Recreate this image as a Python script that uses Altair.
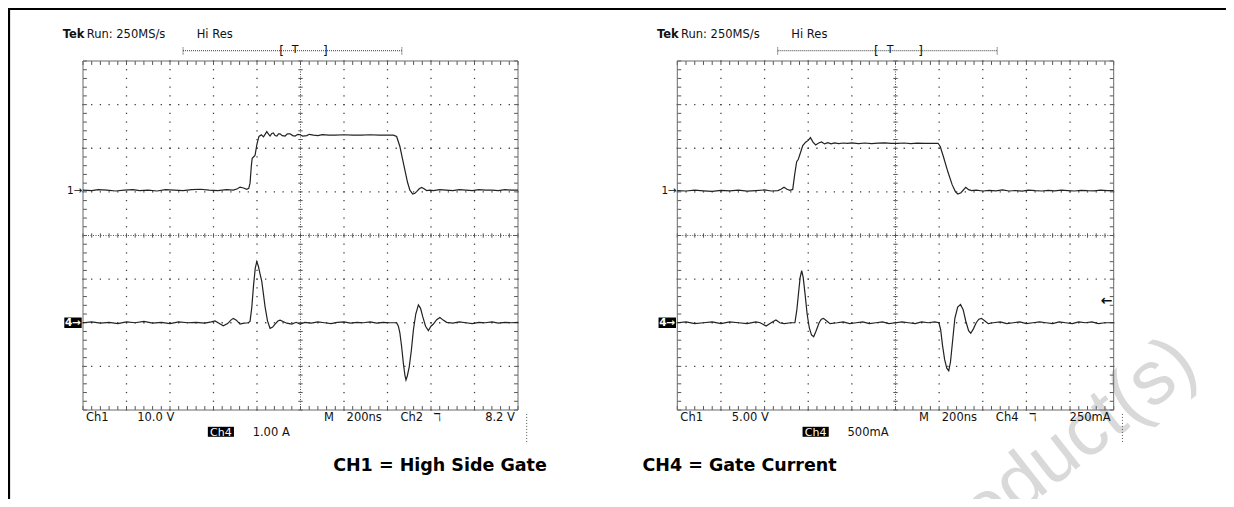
import altair as alt
import numpy as np
import pandas as pd

# ---------------- scope settings ----------------
NS_PER_DIV = 200.0
CH1_OFFSET_DIV = 1.0
CH4_OFFSET_DIV = -2.0
L_CH1_PER_DIV = 10.0   # V/div
L_CH4_PER_DIV = 1.0    # A/div
R_CH1_PER_DIV = 5.0    # V/div
R_CH4_PER_DIV = 0.5    # A/div

# ---------------- left capture (ns, V / A) ----------------
L_CH1_T = [-1000, -960, -930, -890, -850, -810, -770, -740, -700, -660,
           -620, -580, -540, -500, -460, -420, -380, -340, -309, -290,
           -278, -262, -247, -238, -232, -226, -222, -214, -209, -200,
           -191, -180, -170, -155, -146, -140, -132, -125, -117, -109,
           -101, -94, -84, -71, -60, -48, -36, -25, -12, -2,
           10, 29, 40, 60, 80, 100, 130, 160, 200, 240,
           280, 320, 360, 400, 427, 442, 457, 468, 480, 492,
           503, 516, 526, 534, 546, 557, 568, 580, 595, 611,
           640, 670, 700, 730, 760, 790, 820, 850, 880, 910,
           940, 970, 1000]
L_CH1_V = [0.4, 0.3, 0.5, 0.4, 0.2, 0.4, 0.5, 0.3, 0.4, 0.2,
           0.5, 0.4, 0.3, 0.5, 0.6, 0.4, 0.3, 0.5, 0.4, 0.7,
           1.1, 0.9, 0.6, 0.8, 2.0, 6.0, 7.7, 8.1, 8.4, 11.0,
           12.7, 13.1, 12.6, 13.8, 13.2, 12.8, 13.4, 13.5, 12.9, 12.8,
           13.3, 13.3, 12.9, 12.8, 13.3, 13.3, 12.9, 12.8, 13.2, 13.1,
           12.8, 12.9, 13.2, 13.0, 12.9, 13.1, 13.0, 13.0, 13.1, 13.0,
           13.0, 13.1, 13.0, 13.0, 13.0, 12.7, 10.4, 7.8, 5.0, 2.2,
           0.4, -0.5, -0.3, 0.05, 0.7, 1.0, 0.7, 0.3, 0.4, 0.3,
           0.5, 0.4, 0.3, 0.5, 0.4, 0.3, 0.5, 0.4, 0.4, 0.3,
           0.5, 0.4, 0.4]

L_CH4_T = [-1000, -960, -920, -880, -840, -800, -760, -720, -680, -640,
           -600, -560, -520, -480, -440, -410, -393, -375, -355, -335,
           -320, -309, -295, -278, -260, -240, -232, -224, -216, -208,
           -201, -194, -186, -178, -163, -152, -140, -128, -117, -104,
           -94, -80, -63, -40, -20, -2, 20, 50, 80, 110,
           140, 170, 200, 230, 260, 290, 320, 350, 380, 410,
           442, 450, 457, 465, 473, 480, 485, 491, 500, 510,
           519, 530, 542, 552, 562, 575, 588, 600, 611, 626,
           641, 656, 672, 700, 730, 760, 790, 820, 850, 880,
           910, 940, 970, 1000]
L_CH4_A = [0.00, 0.02, -0.01, 0.01, -0.02, 0.02, 0.00, 0.03, -0.01, 0.01,
           -0.02, 0.02, 0.00, 0.01, -0.01, 0.02, 0.04, -0.01, -0.07, -0.02,
           0.06, 0.10, 0.06, -0.03, -0.01, 0.00, 0.03, 0.35, 0.85, 1.25,
           1.40, 1.30, 1.12, 0.95, 0.37, 0.05, -0.13, -0.10, -0.03, 0.04,
           0.06, 0.03, -0.01, -0.03, 0.01, -0.03, 0.01, -0.01, 0.02, 0.00,
           -0.02, 0.01, 0.02, -0.01, 0.01, 0.00, 0.02, -0.01, 0.01, 0.00,
           0.00, -0.08, -0.24, -0.55, -0.93, -1.20, -1.31, -1.22, -1.01, -0.62,
           -0.17, 0.20, 0.41, 0.33, 0.14, -0.08, -0.18, -0.08, -0.03, 0.07,
           0.12, 0.06, 0.01, -0.01, 0.02, 0.00, -0.02, 0.01, 0.00, 0.02,
           -0.01, 0.01, 0.00, 0.01]

# ---------------- right capture (ns, V / A) ----------------
R_CH1_T = [-1000, -960, -920, -880, -840, -800, -760, -720, -680, -640,
           -600, -570, -539, -525, -511, -497, -484, -471, -462, -453,
           -446, -439, -425, -412, -400, -390, -378, -366, -352, -339,
           -325, -310, -295, -280, -260, -240, -220, -200, -170, -140,
           -110, -80, -50, -20, 10, 40, 70, 100, 130, 160,
           195, 205, 220, 240, 260, 275, 286, 300, 322, 335,
           349, 370, 400, 430, 460, 490, 520, 550, 580, 610,
           640, 670, 700, 730, 760, 790, 820, 850, 880, 910,
           940, 970, 1000]
R_CH1_V = [0.15, 0.10, 0.20, 0.12, 0.05, 0.18, 0.12, 0.20, 0.08, 0.15,
           0.22, 0.10, 0.14, 0.30, 0.53, 0.30, 0.18, 0.28, 2.0, 3.46,
           3.7, 4.23, 5.3, 5.69, 5.9, 6.22, 5.7, 5.38, 5.6, 5.72,
           5.5, 5.65, 5.5, 5.62, 5.52, 5.6, 5.55, 5.62, 5.54, 5.6,
           5.53, 5.58, 5.62, 5.55, 5.57, 5.6, 5.54, 5.58, 5.57, 5.56,
           5.57, 5.2, 4.0, 2.3, 0.8, 0.0, -0.24, -0.1, 0.53, 0.25,
           0.14, 0.20, 0.10, 0.18, 0.12, 0.22, 0.10, 0.16, 0.08, 0.20,
           0.14, 0.10, 0.18, 0.12, 0.20, 0.15, 0.10, 0.18, 0.14, 0.12,
           0.20, 0.14, 0.15]

R_CH4_T = [-1000, -960, -920, -880, -840, -800, -760, -720, -680, -640,
           -620, -593, -570, -548, -530, -510, -480, -461, -452, -444,
           -437, -430, -423, -414, -405, -395, -385, -375, -365, -350,
           -340, -330, -315, -300, -267, -240, -210, -180, -150, -120,
           -90, -60, -30, 0, 30, 60, 90, 120, 150, 180,
           199, 207, 215, 225, 235, 244, 252, 262, 272, 285,
           298, 310, 322, 335, 345, 357, 370, 382, 394, 410,
           425, 448, 480, 510, 540, 570, 600, 630, 660, 690,
           720, 750, 780, 810, 840, 870, 900, 930, 960, 1000]
R_CH4_A = [0.00, 0.01, -0.01, 0.00, 0.01, -0.01, 0.01, 0.00, -0.01, 0.01,
           0.00, -0.038, 0.00, 0.031, 0.00, -0.01, 0.00, 0.00, 0.15, 0.35,
           0.52, 0.596, 0.52, 0.32, 0.10, -0.06, -0.14, -0.16, -0.10, 0.00,
           0.04, 0.05, 0.02, -0.01, 0.00, 0.01, -0.01, 0.00, 0.01, -0.01,
           0.00, 0.01, -0.01, 0.00, 0.01, 0.00, -0.01, 0.01, 0.00, 0.01,
           0.00, -0.08, -0.25, -0.42, -0.52, -0.55, -0.45, -0.20, 0.05, 0.18,
           0.21, 0.15, 0.02, -0.09, -0.12, -0.07, 0.00, 0.04, 0.05, 0.02,
           -0.01, 0.00, 0.01, -0.01, 0.00, 0.01, -0.01, 0.00, 0.01, 0.00,
           -0.01, 0.01, 0.00, -0.01, 0.01, 0.00, 0.01, -0.01, 0.00, 0.00]

# ---------------- texts ----------------
TOP_BRAND = "Tek"
TOP_RUN = "Run: 250MS/s"
TOP_MODE = "Hi Res"
L_ROW1 = ["Ch1", "10.0 V", "M", "200ns", "Ch2", "\u2138", "8.2 V"]
R_ROW1 = ["Ch1", "5.00 V", "M", "200ns", "Ch4", "\u2138", "250mA"]
L_ROW2 = ["Ch4", "1.00 A"]
R_ROW2 = ["Ch4", "500mA"]
L_CAPTION = "CH1 = High Side Gate"
R_CAPTION = "CH4 = Gate Current"
WATERMARK = "Obsolete Product(s)"

# ---------------- layout helpers ----------------
PANEL_RANGE = {"L": [0, 435], "R": [594.3, 1030.7]}
FONT = "DejaVu Sans"
INK = "#111111"


def xsc(p):
    return alt.Scale(domain=[0, 10], range=PANEL_RANGE[p], nice=False, zero=False)


YSC = alt.Scale(domain=[-4, 4], nice=False, zero=False)


def exy(p):
    return dict(x=alt.X("x:Q", scale=xsc(p), axis=None),
                y=alt.Y("y:Q", scale=YSC, axis=None))


def rules(p, rows, **mk):
    df = pd.DataFrame(rows, columns=["x", "y", "x2", "y2"])
    return alt.Chart(df).mark_rule(**mk).encode(**exy(p), x2="x2:Q", y2="y2:Q")


def rects(p, rows, **mk):
    df = pd.DataFrame(rows, columns=["x", "y", "x2", "y2"])
    return alt.Chart(df).mark_rect(**mk).encode(**exy(p), x2="x2:Q", y2="y2:Q")


def texts(p, rows, **mk):
    df = pd.DataFrame(rows, columns=["x", "y", "t"])
    return alt.Chart(df).mark_text(**mk).encode(**exy(p), text="t:N")


def trace_df(t, v, per_div, offset, name):
    return pd.DataFrame({"x": np.array(t, float) / NS_PER_DIV + 5.0,
                         "y": np.array(v, float) / per_div + offset,
                         "ch": name})


minor_x = [round(i * 0.2, 3) for i in range(51)]
minor_y = [round(-4 + i * 0.2, 3) for i in range(41)]
TX, TY = 0.09, 0.09


def panel(p, ch1, ch4, row1, row2, caption, caption_x):
    lay = []
    # graticule dots
    dots = [(gx, yy) for gx in [1, 2, 3, 4, 6, 7, 8, 9] for yy in minor_y] + \
           [(xx, gy) for gy in [-3, -2, -1, 1, 2, 3] for xx in minor_x]
    ddf = pd.DataFrame(dots, columns=["x", "y"])
    lay.append(alt.Chart(ddf).mark_square(size=1.6, color="#3c3c3c", opacity=1).encode(**exy(p)))
    # center cross
    lay.append(rules(p, [(5, -4, 5, 4), (0, 0, 10, 0)], color="#555555", strokeWidth=1, strokeDash=[1, 1.5]))
    ticks = [(xx, -0.05, xx, 0.05) for xx in minor_x] + [(4.95, yy, 5.05, yy) for yy in minor_y]
    ticks += [(xx, 4, xx, 4 - TY) for xx in minor_x] + [(xx, -4, xx, -4 + TY) for xx in minor_x]
    ticks += [(0, yy, TX, yy) for yy in minor_y] + [(10, yy, 10 - TX, yy) for yy in minor_y]
    lay.append(rules(p, ticks, color="#555555", strokeWidth=1))
    # border
    lay.append(rules(p, [(0, -4, 0, 4), (10, -4, 10, 4), (0, 4, 10, 4), (0, -4, 10, -4)],
                     color="#6a6a6a", strokeWidth=1))
    # traces
    tdf = pd.concat([ch1, ch4])
    lay.append(alt.Chart(tdf).mark_line(color="#222222", strokeWidth=1.2).encode(
        **exy(p), detail="ch:N"))
    # top status line
    lay.append(texts(p, [(-0.467, 4.52, TOP_BRAND)], font=FONT, fontSize=11.5, fontWeight="bold",
                     align="left", baseline="alphabetic", color=INK))
    lay.append(texts(p, [(0.085, 4.52, TOP_RUN), (2.614, 4.52, TOP_MODE)], font=FONT, fontSize=11.5,
                     align="left", baseline="alphabetic", color=INK))
    # trigger position bar
    lay.append(rules(p, [(2.30, 4.236, 7.33, 4.236)], color="#333333", strokeWidth=1, strokeDash=[1, 1]))
    lay.append(rules(p, [(2.30, 4.15, 2.30, 4.32), (7.33, 4.15, 7.33, 4.32)], color="#333333",
                     strokeWidth=1, strokeDash=[1, 1]))
    lay.append(texts(p, [(4.51, 4.236, "["), (5.52, 4.236, "]")], font=FONT, fontSize=12,
                     align="left", baseline="middle", color=INK))
    lay.append(texts(p, [(4.80, 4.172, "T")], font=FONT, fontSize=11, align="left",
                     baseline="alphabetic", color=INK))
    # ground markers
    lay.append(texts(p, [(-0.01, 1.02, "1\u2192")], font=FONT, fontSize=10.5, align="right",
                     baseline="middle", color=INK))
    lay.append(rects(p, [(-0.43, -1.88, -0.03, -2.12)], color="black"))
    lay.append(texts(p, [(-0.23, -2.0, "4\u2192")], font=FONT, fontSize=10.5, fontWeight="bold",
                     align="center", baseline="middle", color="white"))
    # bottom readouts
    r1y = -4.245
    lay.append(texts(p, [(0.07, r1y, row1[0]), (5.54, r1y, row1[2]), (6.06, r1y, row1[3]),
                         (7.30, r1y, row1[4])],
                     font=FONT, fontSize=11.5, align="left", baseline="alphabetic", color=INK))
    lay.append(texts(p, [(2.10, r1y, row1[1]), (9.93, r1y, row1[6])],
                     font=FONT, fontSize=11.5, align="right", baseline="alphabetic", color=INK))
    lay.append(texts(p, [(8.06, r1y, row1[5])], font=FONT, fontSize=11.5, align="left",
                     baseline="alphabetic", color=INK))
    lay.append(rules(p, [(10.2, -4.09, 10.2, -4.78)], color="#555555", strokeWidth=1, strokeDash=[1, 2]))
    lay.append(rects(p, [(2.87, -4.385, 3.47, -4.614)], color="black"))
    lay.append(texts(p, [(3.17, -4.585, row2[0])], font=FONT, fontSize=11, align="center",
                     baseline="alphabetic", color="white"))
    lay.append(texts(p, [(3.90, -4.585, row2[1])], font=FONT, fontSize=11.5, align="left",
                     baseline="alphabetic", color=INK))
    # caption
    lay.append(texts(p, [(caption_x, -5.398, caption)], font=FONT, fontSize=17.5, fontWeight="bold",
                     align="left", baseline="alphabetic", color="#000000"))
    return lay


layers = []
# watermark (under everything)
layers.append(texts("R", [(12.0, -3.12, WATERMARK)], font="Liberation Sans", fontSize=76,
                    angle=322, align="right", baseline="alphabetic", color="#d9d9d9"))
# page frame
layers.append(rules("L", [(-1.701, 5.4, -1.701, -7.0), (-1.75, 5.192, 27.0, 5.192)],
                    color="black", strokeWidth=2.2))

layers += panel("L",
                trace_df(L_CH1_T, L_CH1_V, L_CH1_PER_DIV, CH1_OFFSET_DIV, "ch1"),
                trace_df(L_CH4_T, L_CH4_A, L_CH4_PER_DIV, CH4_OFFSET_DIV, "ch4"),
                L_ROW1, L_ROW2, L_CAPTION, 5.75)
layers += panel("R",
                trace_df(R_CH1_T, R_CH1_V, R_CH1_PER_DIV, CH1_OFFSET_DIV, "ch1"),
                trace_df(R_CH4_T, R_CH4_A, R_CH4_PER_DIV, CH4_OFFSET_DIV, "ch4"),
                R_ROW1, R_ROW2, R_CAPTION, -0.80)
# trigger level arrow (right capture)
layers.append(texts("R", [(9.84, -1.495, "\u2190")], font=FONT, fontSize=14, fontWeight="bold",
                    align="center", baseline="middle", color=INK))

chart = alt.layer(*layers).resolve_scale(x="independent").properties(
    width=1031, height=349,
    padding={"left": 75, "top": 53, "right": 112, "bottom": 89},
    autosize=alt.AutoSizeParams(type="none"),
    background="white",
).configure_view(strokeWidth=0)

chart.save("out.html", embed_options={"renderer": "svg", "actions": False})
